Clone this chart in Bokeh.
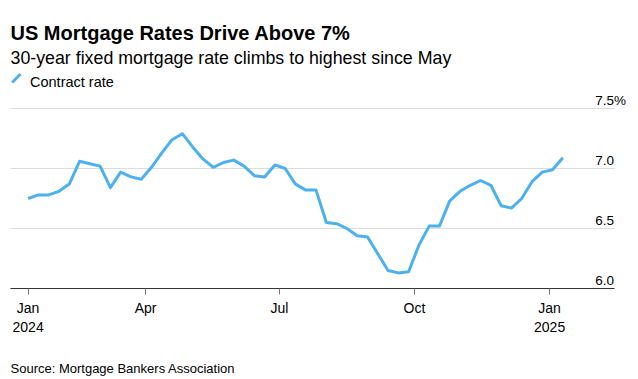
import pandas as pd
from bokeh.plotting import figure
from bokeh.models import Range1d, FixedTicker, Label, Arrow, ColumnDataSource
from bokeh.embed import file_html
from bokeh.resources import INLINE

# ---- data ----
week_start = "2024-01-12"
rates = [6.75, 6.78, 6.78, 6.81, 6.87, 7.06, 7.04, 7.02, 6.84, 6.97, 6.93, 6.91,
         7.01, 7.13, 7.24, 7.29, 7.18, 7.08, 7.01, 7.05, 7.07, 7.02, 6.94, 6.93,
         7.03, 7.00, 6.87, 6.82, 6.82, 6.55, 6.54, 6.50, 6.44, 6.43, 6.29, 6.15,
         6.13, 6.14, 6.36, 6.52, 6.52, 6.73, 6.81, 6.86, 6.90, 6.86, 6.69, 6.67,
         6.75, 6.89, 6.97, 6.99, 7.09]
dates = pd.date_range(week_start, periods=len(rates), freq="7D")

x_tick_dates = ["2024-01-12", "2024-04-01", "2024-07-01", "2024-10-01", "2025-01-01"]
x_tick_labels = ["Jan\n2024", "Apr", "Jul", "Oct", "Jan\n2025"]
y_ticks = [6.0, 6.5, 7.0, 7.5]
y_tick_labels = ["6.0", "6.5", "7.0", "7.5%"]

title = "US Mortgage Rates Drive Above 7%"
subtitle = "30-year fixed mortgage rate climbs to highest since May"
legend_label = "Contract rate"
source_note = "Source: Mortgage Bankers Association"

LINE = "#4cb1ec"
FONT = "Liberation Sans"

W, H = 636, 376
DAY = 86400000.0
PX_PER_DAY = 1.469
PX_PER_UNIT = 120.0
AXIS_Y = 288.0     # pixel row of the 6.0 baseline
AXIS_X0 = 10.0     # pixel column where the axis starts


def ms(d):
    return pd.Timestamp(d).value / 1e6


axis_start = ms("2023-12-31")
axis_end = ms("2025-02-14")
x_start = axis_start - AXIS_X0 / PX_PER_DAY * DAY
x_end = x_start + W / PX_PER_DAY * DAY
y_start = y_ticks[0] - (H - AXIS_Y) / PX_PER_UNIT
y_end = y_ticks[0] + AXIS_Y / PX_PER_UNIT

p = figure(width=W, height=H, output_backend="svg", toolbar_location=None,
           x_range=Range1d(x_start, x_end), y_range=Range1d(y_start, y_end),
           min_border=0, min_border_left=0, min_border_right=0,
           min_border_top=0, min_border_bottom=0)
p.outline_line_color = None
p.background_fill_color = "white"
p.border_fill_color = "white"

# grid
p.xgrid.visible = False
p.ygrid.ticker = FixedTicker(ticks=y_ticks)
p.ygrid.grid_line_color = "#dcdcdc"
p.ygrid.grid_line_width = 1
p.ygrid.cross_bounds = (axis_start, axis_end)

src = ColumnDataSource(dict(x=[ms(d) for d in dates], y=rates))
p.line("x", "y", source=src, line_color=LINE, line_width=3, line_join="round")

# x axis (drawn at the 6.0 level)
xticks = [ms(d) for d in x_tick_dates]
xa = p.xaxis[0]
xa.fixed_location = y_ticks[0]
xa.bounds = (axis_start, axis_end)
xa.ticker = FixedTicker(ticks=xticks)
xa.major_label_overrides = {t: l for t, l in zip(xticks, x_tick_labels)}
xa.axis_line_color = "#333333"
xa.axis_line_width = 1
xa.major_tick_line_color = "#777777"
xa.major_tick_in = 0
xa.major_tick_out = 6
xa.minor_tick_line_color = None
xa.major_label_text_font = FONT
xa.major_label_text_font_size = "14px"
xa.major_label_text_color = "#000000"
xa.major_label_standoff = 5
xa.major_label_text_line_height = 1.2

p.yaxis.visible = False

for v, lab in zip(y_ticks, y_tick_labels):
    p.add_layout(Label(x=axis_end, y=v, x_offset=-19, y_offset=8.5, text=lab,
                       text_font=FONT, text_font_size="13.5px", text_color="#000000",
                       text_align="left", text_baseline="alphabetic"))

# header / footer texts (screen units from the bottom-left corner)
p.add_layout(Label(x=10, y=H - 32.7, x_units="screen", y_units="screen", text=title,
                   text_font=FONT, text_font_size="20px", text_font_style="bold",
                   text_color="#000000", text_baseline="alphabetic"))
p.add_layout(Label(x=10, y=H - 57.3, x_units="screen", y_units="screen", text=subtitle,
                   text_font=FONT, text_font_size="17.8px", text_color="#000000",
                   text_baseline="alphabetic"))
p.add_layout(Label(x=29.5, y=H - 81.7, x_units="screen", y_units="screen", text=legend_label,
                   text_font=FONT, text_font_size="14.5px", text_color="#000000",
                   text_baseline="alphabetic"))
p.add_layout(Arrow(end=None, start=None, x_start=11.7, y_start=H - 82, x_end=20, y_end=H - 73.5,
                   start_units="screen", end_units="screen",
                   line_color=LINE, line_width=3))
p.add_layout(Label(x=10, y=H - 367.7, x_units="screen", y_units="screen", text=source_note,
                   text_font=FONT, text_font_size="13px", text_color="#000000",
                   text_baseline="alphabetic"))

open("out.html", "w").write(file_html(p, INLINE))
